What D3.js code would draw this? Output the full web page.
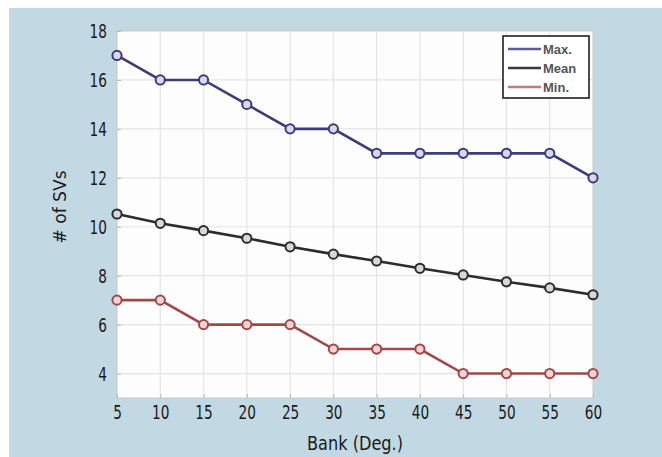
<!DOCTYPE html>
<html>
<head>
<meta charset="utf-8">
<script src="https://cdn.jsdelivr.net/npm/d3@7"></script>
<style>
  html, body { margin: 0; padding: 0; background: #ffffff; }
  svg { display: block; }
</style>
</head>
<body>
<svg id="chart" width="662" height="457"></svg>
<script>
const banks = [5, 10, 15, 20, 25, 30, 35, 40, 45, 50, 55, 60];
const maxValues = [17, 16, 16, 15, 14, 14, 13, 13, 13, 13, 13, 12];
const meanValues = [10.52, 10.14, 9.84, 9.53, 9.18, 8.88, 8.6, 8.3, 8.03, 7.75, 7.5, 7.22];
const minValues = [7, 7, 6, 6, 6, 5, 5, 5, 4, 4, 4, 4];
const yTicks = [4, 6, 8, 10, 12, 14, 16, 18];
const seriesNames = ["Max.", "Mean", "Min."];

const series = [
  { name: seriesNames[0], values: maxValues, color: "#3c3c78", legend: "#5c5c94", fill: "#d8d8ec" },
  { name: seriesNames[1], values: meanValues, color: "#2c2c2c", legend: "#3a3a3a", fill: "#d8d8d8" },
  { name: seriesNames[2], values: minValues, color: "#9e4a4a", legend: "#c47a7a", fill: "#f0d4d4" }
];

const svg = d3.select("#chart");
const W = 662, H = 457;
const plot = { left: 117, right: 593, top: 31, bottom: 398 };
const font = "'DejaVu Sans', sans-serif";
const sx = 0.72; // horizontal condensing for the narrow typeface look

svg.append("rect").attr("x", 9).attr("y", 8).attr("width", W - 9).attr("height", H - 8).attr("fill", "#c2d9e4");

const x = d3.scaleLinear().domain([5, 60]).range([plot.left, plot.right]);
const y = d3.scaleLinear().domain([3, 18]).range([plot.bottom, plot.top]);

svg.append("rect")
  .attr("x", plot.left).attr("y", plot.top)
  .attr("width", plot.right - plot.left).attr("height", plot.bottom - plot.top)
  .attr("fill", "#fdfdfd").attr("stroke", "#c8c8c8").attr("stroke-width", 1);

// grid
const grid = svg.append("g");
grid.selectAll("line.gx").data(banks.slice(1, -1)).join("line")
  .attr("x1", d => x(d)).attr("x2", d => x(d))
  .attr("y1", plot.top).attr("y2", plot.bottom)
  .attr("stroke", "#e4e4e4").attr("stroke-width", 1.2);
grid.selectAll("line.gy").data(yTicks.filter(d => d < 18)).join("line")
  .attr("x1", plot.left).attr("x2", plot.right)
  .attr("y1", d => y(d)).attr("y2", d => y(d))
  .attr("stroke", "#e4e4e4").attr("stroke-width", 1.2);

// axes
const xAxis = svg.append("g").attr("transform", `translate(0,${plot.bottom})`)
  .call(d3.axisBottom(x).tickValues(banks).tickSize(-4).tickPadding(8).tickFormat(d3.format("d")));
const yAxis = svg.append("g").attr("transform", `translate(${plot.left},0)`)
  .call(d3.axisLeft(y).tickValues(yTicks).tickSize(-4).tickPadding(10).tickFormat(d3.format("d")));
[xAxis, yAxis].forEach(a => {
  a.select(".domain").remove();
  a.selectAll(".tick line").attr("stroke", "#b8b8b8");
  a.selectAll(".tick text").attr("font-family", font).attr("font-size", 19).attr("fill", "#1a1a1a");
});
xAxis.selectAll(".tick text").attr("transform", `scale(${sx},1)`);
yAxis.selectAll(".tick text").attr("dy", "0.36em").attr("x", -10 / sx).attr("transform", `scale(${sx},1)`);

// lines
const line = d3.line().x((d, i) => x(banks[i])).y(d => y(d));
series.forEach(s => {
  svg.append("path").datum(s.values)
    .attr("d", line).attr("fill", "none")
    .attr("stroke", s.color).attr("stroke-width", 2.6);
  svg.append("g").selectAll("circle").data(s.values).join("circle")
    .attr("cx", (d, i) => x(banks[i])).attr("cy", d => y(d)).attr("r", 4.6)
    .attr("fill", s.fill).attr("stroke", s.color).attr("stroke-width", 2);
});

// legend
const lg = svg.append("g");
lg.append("rect").attr("x", 503).attr("y", 36).attr("width", 86).attr("height", 62)
  .attr("fill", "#ffffff").attr("stroke", "#1e1e1e").attr("stroke-width", 1.6);
series.forEach((s, i) => {
  const ly = 49 + i * 19;
  lg.append("line").attr("x1", 508).attr("x2", 541).attr("y1", ly).attr("y2", ly)
    .attr("stroke", s.legend).attr("stroke-width", 2.4);
  lg.append("text").attr("x", 543).attr("y", ly).attr("dy", "0.36em")
    .attr("font-family", "'Liberation Sans', Arial, sans-serif").attr("font-size", 13)
    .attr("font-weight", "bold").attr("fill", "#555555").text(s.name);
});

// axis titles
svg.append("text").attr("transform", `translate(${(plot.left + plot.right) / 2},450) scale(0.85,1)`)
  .attr("text-anchor", "middle").attr("font-family", font).attr("font-size", 19)
  .attr("fill", "#1a1a1a").text("Bank (Deg.)");
svg.append("text").attr("transform", `translate(66,207) rotate(-90) scale(0.95,1)`)
  .attr("text-anchor", "middle").attr("font-family", font).attr("font-size", 18)
  .attr("fill", "#1a1a1a").text("# of SVs");
</script>
</body>
</html>
